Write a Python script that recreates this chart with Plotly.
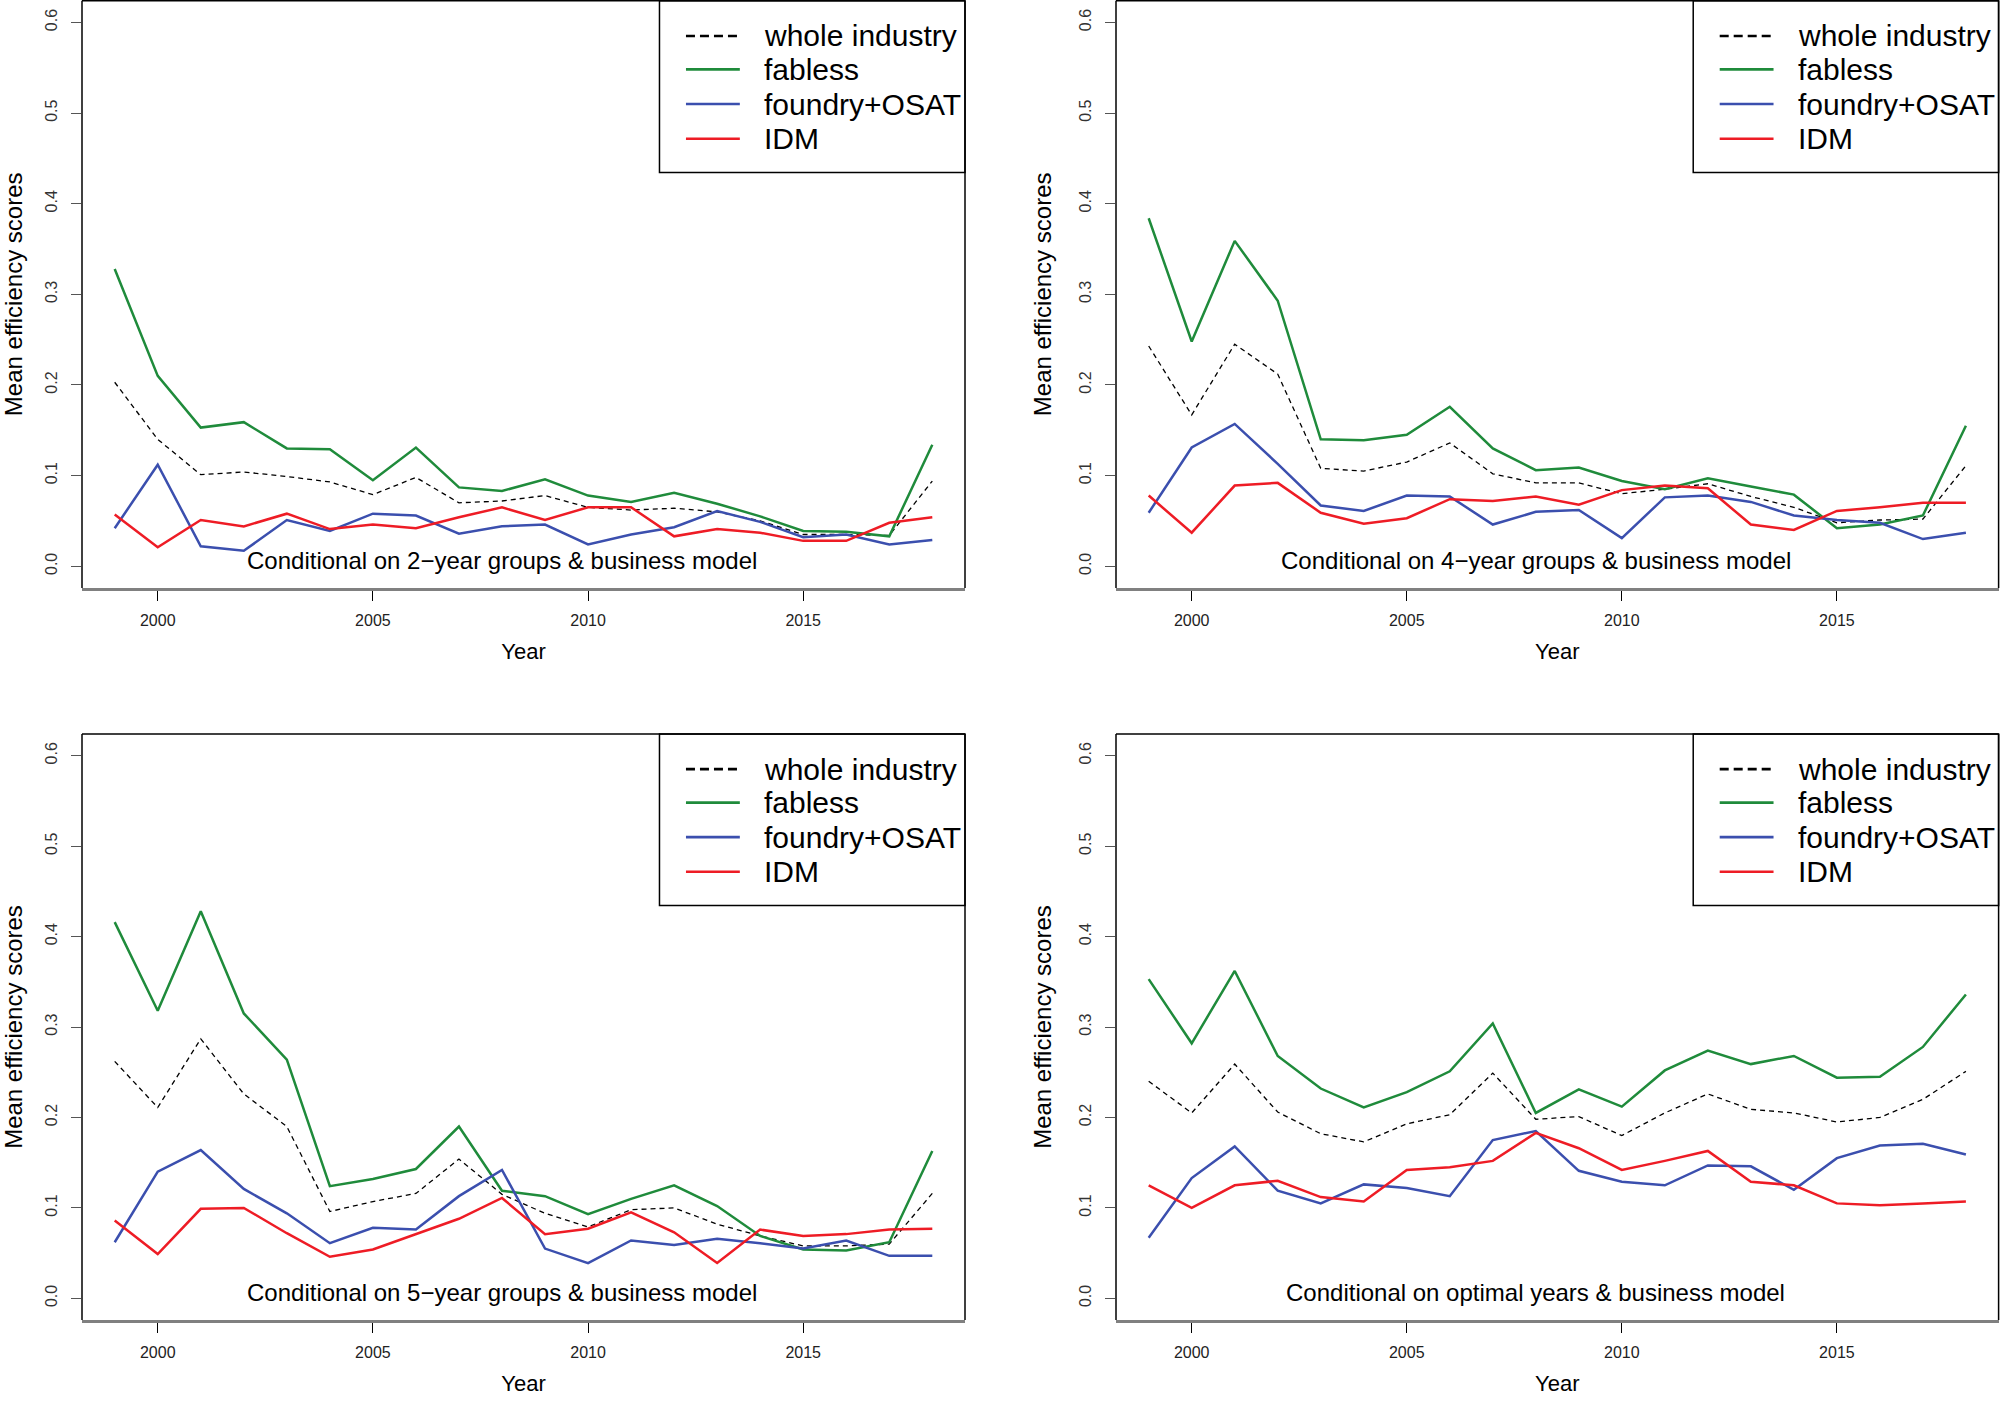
from plotly.subplots import make_subplots
import plotly.graph_objects as go

years = list(range(1999, 2019))
series_names = ["whole industry", "fabless", "foundry+OSAT", "IDM"]
panel_notes = [
	"Conditional on 2\u2212year groups & business model",
	"Conditional on 4\u2212year groups & business model",
	"Conditional on 5\u2212year groups & business model",
	"Conditional on optimal years & business model",
]

# 2-year groups
whole_2y   = [0.203, 0.140, 0.101, 0.104, 0.099, 0.093, 0.079, 0.098, 0.070, 0.072, 0.078, 0.065, 0.062, 0.064, 0.060, 0.050, 0.035, 0.035, 0.034, 0.094]
fabless_2y = [0.328, 0.210, 0.153, 0.159, 0.130, 0.129, 0.095, 0.131, 0.087, 0.083, 0.096, 0.078, 0.071, 0.081, 0.069, 0.055, 0.039, 0.038, 0.033, 0.134]
foundry_2y = [0.042, 0.112, 0.022, 0.017, 0.051, 0.039, 0.058, 0.056, 0.036, 0.044, 0.046, 0.024, 0.035, 0.043, 0.061, 0.049, 0.032, 0.035, 0.024, 0.029]
idm_2y     = [0.057, 0.021, 0.051, 0.044, 0.058, 0.041, 0.046, 0.042, 0.054, 0.065, 0.051, 0.065, 0.065, 0.033, 0.041, 0.037, 0.028, 0.028, 0.048, 0.054]

# 4-year groups
whole_4y   = [0.243, 0.167, 0.245, 0.212, 0.108, 0.105, 0.115, 0.136, 0.102, 0.092, 0.092, 0.080, 0.085, 0.091, 0.077, 0.065, 0.048, 0.051, 0.052, 0.111]
fabless_4y = [0.384, 0.248, 0.359, 0.293, 0.140, 0.139, 0.145, 0.176, 0.130, 0.106, 0.109, 0.094, 0.085, 0.097, 0.088, 0.079, 0.042, 0.046, 0.056, 0.155]
foundry_4y = [0.059, 0.131, 0.157, 0.113, 0.067, 0.061, 0.078, 0.077, 0.046, 0.060, 0.062, 0.031, 0.076, 0.078, 0.071, 0.056, 0.051, 0.048, 0.030, 0.037]
idm_4y     = [0.078, 0.037, 0.089, 0.092, 0.059, 0.047, 0.053, 0.074, 0.072, 0.077, 0.068, 0.084, 0.089, 0.086, 0.046, 0.040, 0.061, 0.065, 0.070, 0.070]

# 5-year groups
whole_5y   = [0.262, 0.211, 0.287, 0.226, 0.190, 0.096, 0.107, 0.116, 0.154, 0.115, 0.094, 0.079, 0.098, 0.100, 0.082, 0.069, 0.058, 0.058, 0.060, 0.116]
fabless_5y = [0.416, 0.318, 0.428, 0.315, 0.264, 0.124, 0.132, 0.143, 0.190, 0.119, 0.113, 0.093, 0.110, 0.125, 0.102, 0.069, 0.054, 0.053, 0.062, 0.163]
foundry_5y = [0.062, 0.140, 0.164, 0.121, 0.094, 0.061, 0.078, 0.076, 0.113, 0.142, 0.055, 0.039, 0.064, 0.059, 0.066, 0.061, 0.055, 0.064, 0.047, 0.047]
idm_5y     = [0.086, 0.049, 0.099, 0.100, 0.072, 0.046, 0.054, 0.071, 0.088, 0.111, 0.071, 0.077, 0.095, 0.073, 0.039, 0.076, 0.069, 0.071, 0.076, 0.077]

# optimal years
whole_opt   = [0.240, 0.205, 0.259, 0.206, 0.182, 0.173, 0.193, 0.203, 0.249, 0.198, 0.201, 0.180, 0.205, 0.226, 0.209, 0.205, 0.195, 0.200, 0.220, 0.251]
fabless_opt = [0.353, 0.282, 0.362, 0.268, 0.232, 0.211, 0.228, 0.251, 0.304, 0.205, 0.231, 0.212, 0.252, 0.274, 0.259, 0.268, 0.244, 0.245, 0.278, 0.336]
foundry_opt = [0.067, 0.133, 0.168, 0.119, 0.105, 0.126, 0.122, 0.113, 0.175, 0.185, 0.141, 0.129, 0.125, 0.147, 0.146, 0.120, 0.155, 0.169, 0.171, 0.159]
idm_opt     = [0.125, 0.100, 0.125, 0.130, 0.112, 0.107, 0.142, 0.145, 0.152, 0.183, 0.166, 0.142, 0.152, 0.163, 0.129, 0.125, 0.105, 0.103, 0.105, 0.107]

panels = [
	[whole_2y, fabless_2y, foundry_2y, idm_2y],
	[whole_4y, fabless_4y, foundry_4y, idm_4y],
	[whole_5y, fabless_5y, foundry_5y, idm_5y],
	[whole_opt, fabless_opt, foundry_opt, idm_opt],
]

colors = ["black", "#1f8b3b", "#3b4fae", "#ee1c25"]
widths = [1.3, 2.5, 2.5, 2.5]
dashes = ["5px,4px", "solid", "solid", "solid"]
FONT = "Liberation Sans, Arial, sans-serif"

fig = make_subplots(rows=2, cols=2)

# subplot positions, in paper fractions (x0, x1, y0, y1)
domains = [
	([0.041, 0.4825], [0.5812, 0.9995]),
	([0.558, 0.9993], [0.5812, 0.9995]),
	([0.041, 0.4825], [0.0598, 0.4772]),
	([0.558, 0.9993], [0.0598, 0.4772]),
]
axis_ids = ["", "2", "3", "4"]

for i, panel in enumerate(panels):
	row, col = i // 2 + 1, i % 2 + 1
	for name, vals, c, w, d in zip(series_names, panel, colors, widths, dashes):
		fig.add_trace(go.Scatter(x=years, y=vals, mode="lines", name=name,
			line=dict(color=c, width=w, dash=d), showlegend=False), row=row, col=col)
	fig.update_xaxes(domain=domains[i][0], row=row, col=col)
	fig.update_yaxes(domain=domains[i][1], row=row, col=col)

	xd = "x" + axis_ids[i] + " domain"
	yd = "y" + axis_ids[i] + " domain"
	xr = "x" + axis_ids[i]
	yr = "y" + axis_ids[i]

	# plot frame: left, top, right (bottom is the grey axis line)
	for x0, y0, x1, y1 in [(0, 0, 0, 1), (0, 1, 1, 1), (1, 1, 1, 0)]:
		fig.add_shape(type="line", xref=xd, yref=yd, x0=x0, y0=y0, x1=x1, y1=y1,
			line=dict(color="black", width=1.5))

	# legend box
	fig.add_shape(type="rect", xref=xd, yref=yd, x0=0.654, x1=1.0, y0=0.7075, y1=1.0,
		line=dict(color="black", width=1.5), fillcolor="white", layer="below")
	row_y = [0.940, 0.883, 0.824, 0.765]
	for k, name in enumerate(series_names):
		fig.add_shape(type="line", xref=xd, yref=yd, x0=0.684, x1=0.745, y0=row_y[k], y1=row_y[k],
			line=dict(color=colors[k], width=2.6, dash="9px,5px" if k == 0 else "solid"))
		fig.add_annotation(xref=xd, yref=yd, x=0.770, y=row_y[k], text=name, showarrow=False,
			xanchor="left", yanchor="middle", font=dict(size=30, color="black", family=FONT))

	fig.add_annotation(xref=xr, yref=yr, x=2008, y=0, yshift=6, text=panel_notes[i], showarrow=False,
		xanchor="center", yanchor="middle", font=dict(size=24, color="black", family=FONT))

fig.update_xaxes(range=[1998.24, 2018.76], tickvals=[2000, 2005, 2010, 2015], ticks="outside",
	ticklen=10, tickcolor="black", tickwidth=1.2, tickfont=dict(size=16, color="#222", family=FONT),
	ticklabelstandoff=6, showline=True, linecolor="#808080", linewidth=3, showgrid=False,
	zeroline=False, automargin=False,
	title=dict(text="Year", font=dict(size=22, color="black", family=FONT), standoff=16))
fig.update_yaxes(range=[-0.024, 0.624], tickvals=[0, 0.1, 0.2, 0.3, 0.4, 0.5, 0.6], tickformat=".1f",
	tickangle=-90, ticks="outside", ticklen=10, tickcolor="#555", tickwidth=1.2,
	tickfont=dict(size=16, color="#333", family=FONT), ticklabelstandoff=8,
	showline=False, showgrid=False, zeroline=False, automargin=False,
	title=dict(text="Mean efficiency scores", font=dict(size=24, color="black", family=FONT), standoff=18))

fig.update_layout(width=2000, height=1404, margin=dict(l=0, r=0, t=0, b=0),
	plot_bgcolor="white", paper_bgcolor="white", showlegend=False, font=dict(family=FONT))

# drop the default page margin so the figure sits at the window origin
fig.write_html("out.html", config={"displayModeBar": False},
	post_script="document.body.style.margin='0';")
